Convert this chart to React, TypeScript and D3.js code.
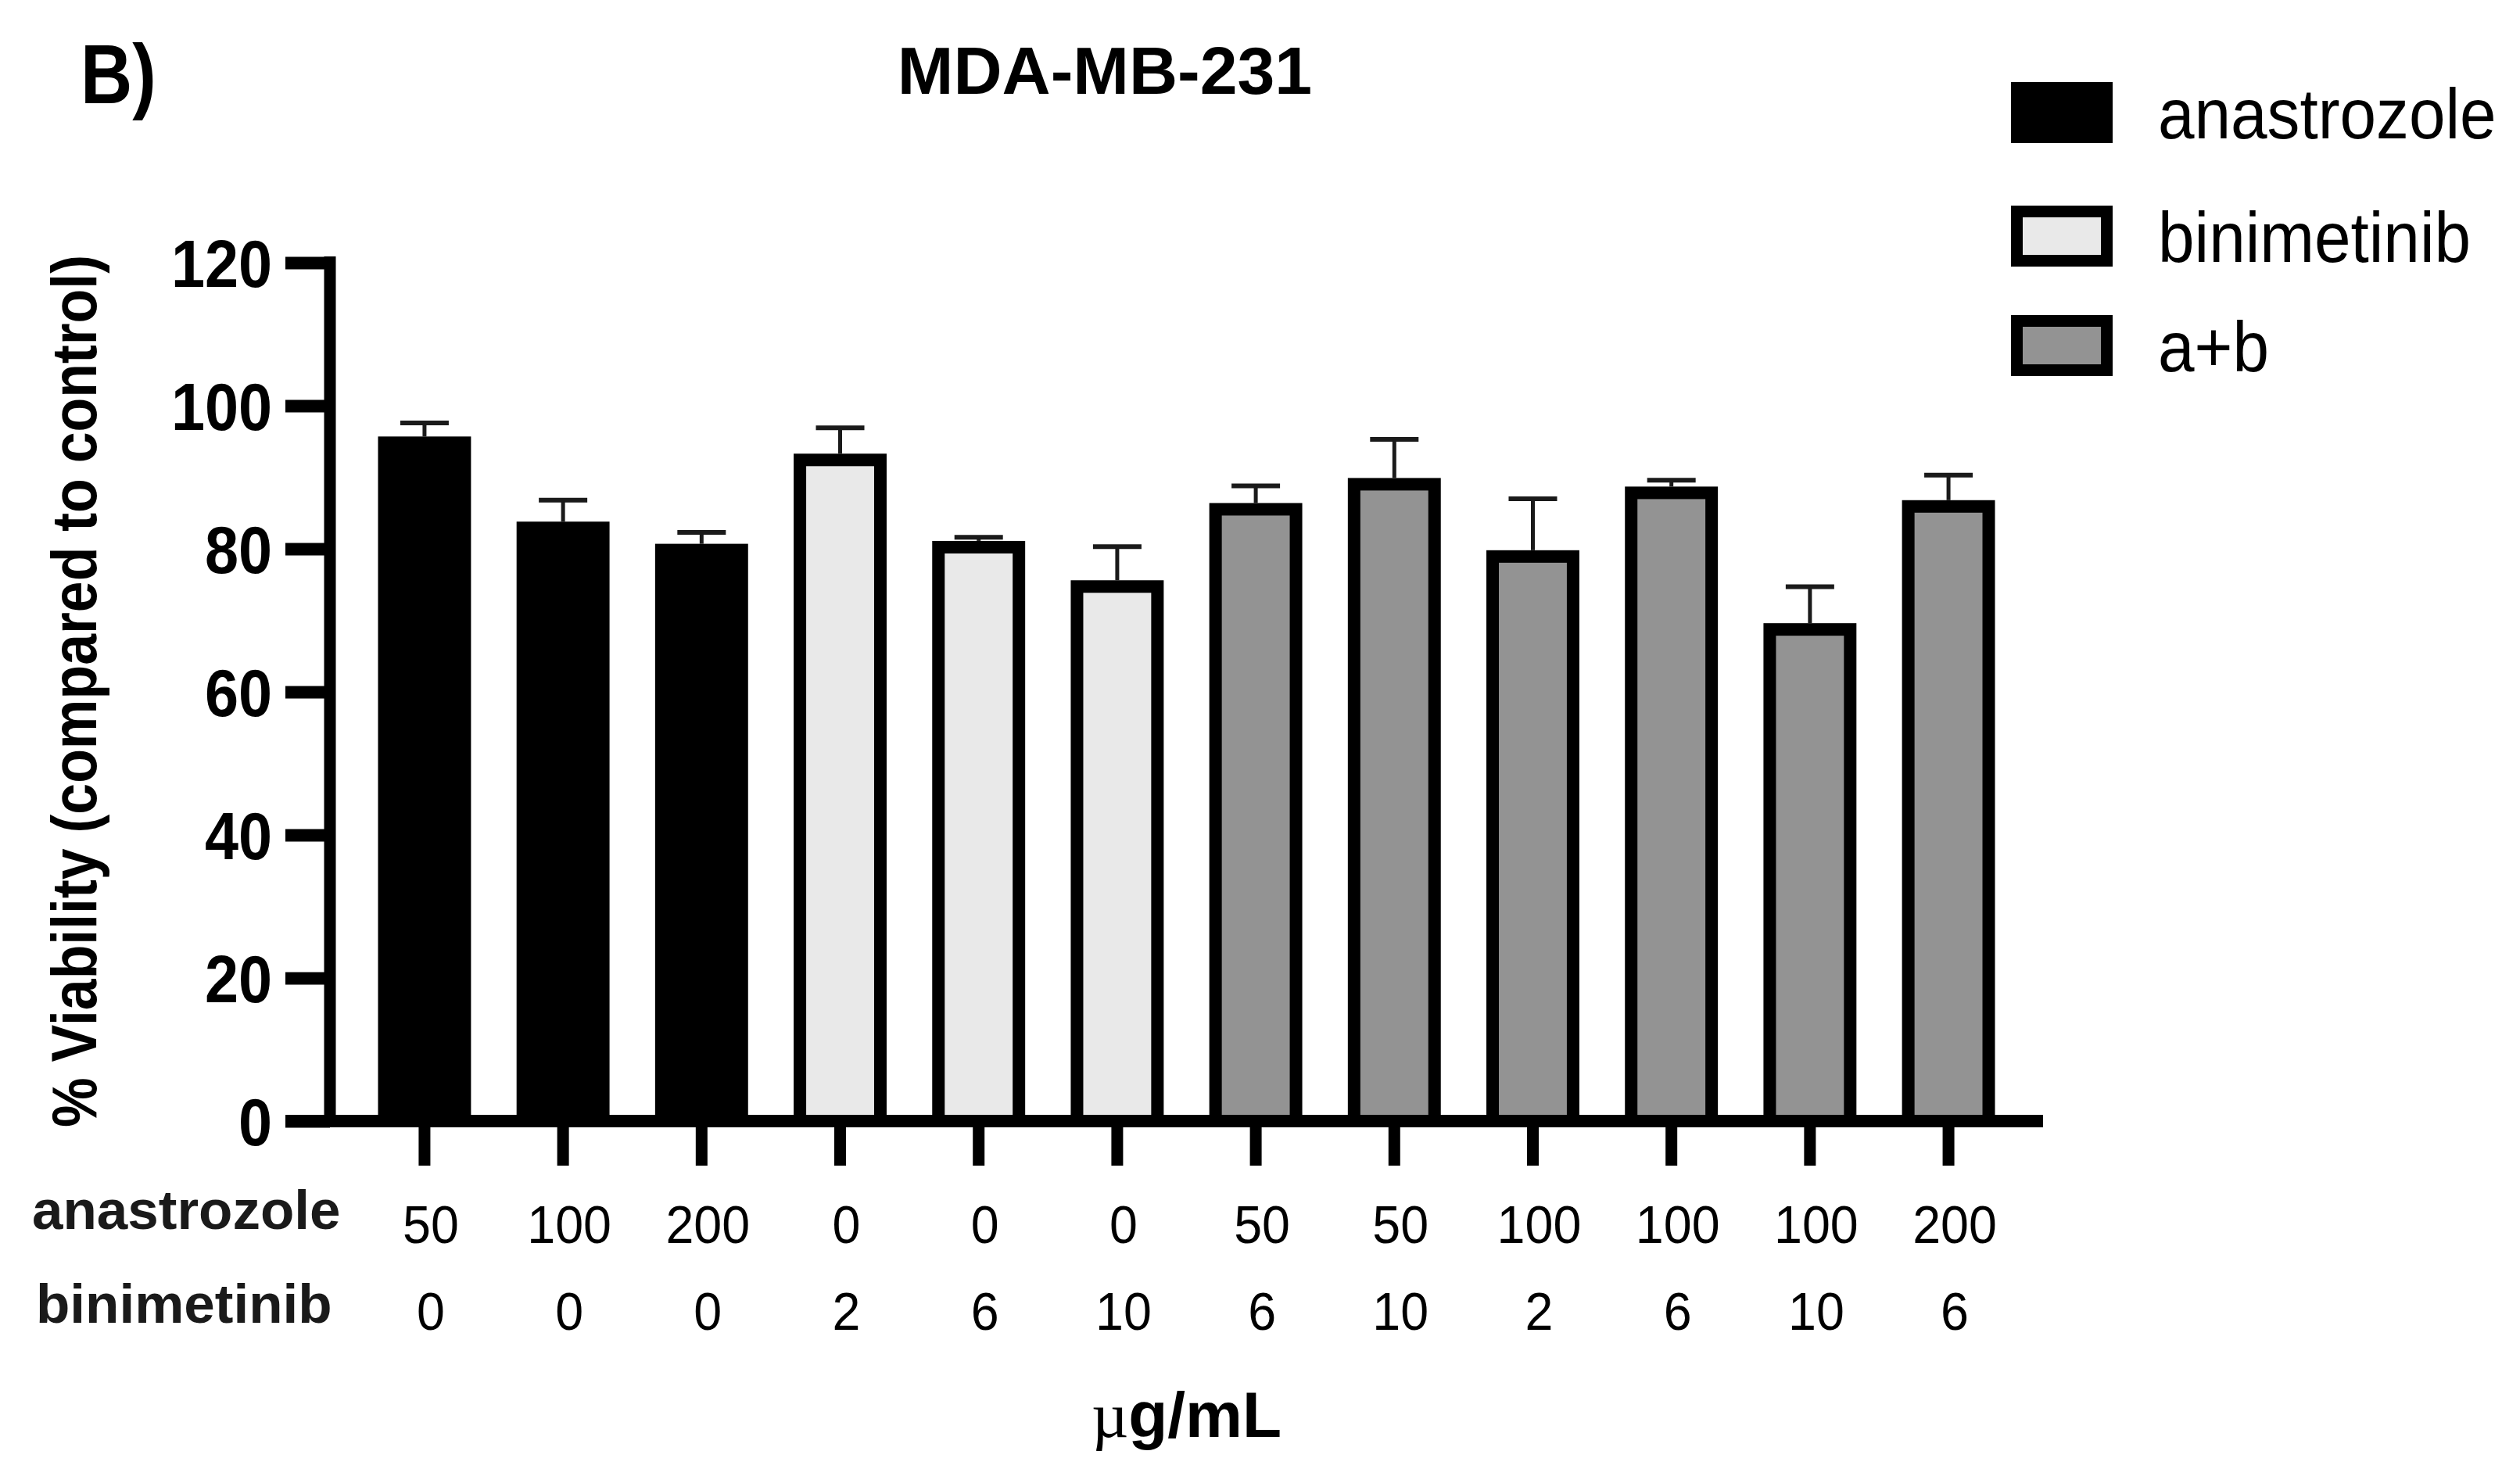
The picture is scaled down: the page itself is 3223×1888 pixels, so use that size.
import { useEffect, useRef } from 'react';
import * as d3 from 'd3';

// data
const seriesNames = ['anastrozole', 'binimetinib', 'a+b'];
const barGroup = [
  'anastrozole', 'anastrozole', 'anastrozole',
  'binimetinib', 'binimetinib', 'binimetinib',
  'a+b', 'a+b', 'a+b', 'a+b', 'a+b', 'a+b',
];
const anastrozoleDose = ['50', '100', '200', '0', '0', '0', '50', '50', '100', '100', '100', '200'];
const binimetinibDose = ['0', '0', '0', '2', '6', '10', '6', '10', '2', '6', '10', '6'];
const viability = [95.7, 83.8, 80.7, 93.3, 81.1, 75.6, 86.4, 89.9, 79.8, 88.7, 69.6, 86.8];
const viabilityErr = [1.9, 3.0, 1.6, 3.6, 0.5, 4.7, 2.4, 5.4, 7.2, 0.9, 5.1, 3.5];
const yTicks = [0, 20, 40, 60, 80, 100, 120];

const W = 3223;
const H = 1888;
const FONT = "'Liberation Sans', Arial, Helvetica, sans-serif";

export default function App() {
  const svgRef = useRef<SVGSVGElement>(null);

  useEffect(() => {
    if (!svgRef.current) return;
    const svg = d3.select(svgRef.current);
    svg.selectAll('*').remove();

    svg.append('rect').attr('width', W).attr('height', H).attr('fill', '#fff');

    const x = d3.scaleBand<number>()
      .domain(d3.range(viability.length))
      .range([422, 2613])
      .paddingInner(0.329)
      .paddingOuter(0.347);
    const y = d3.scaleLinear().domain([0, 120]).range([1434, 336]);
    const fill = d3.scaleOrdinal<string, string>()
      .domain(seriesNames)
      .range(['#000000', '#e9e9e9', '#939393']);
    const bw = x.bandwidth();
    const cx = (i: number) => (x(i) as number) + bw / 2;

    // bars (border drawn inside the bar)
    svg.append('g').selectAll('rect')
      .data(viability)
      .join('rect')
      .attr('x', (d, i) => (x(i) as number) + 8)
      .attr('y', d => y(d) + 8)
      .attr('width', bw - 16)
      .attr('height', d => y(0) - y(d) - 8)
      .attr('fill', (d, i) => fill(barGroup[i]))
      .attr('stroke', '#000')
      .attr('stroke-width', 16);

    // error bars (upper only)
    const err = svg.append('g').attr('stroke', '#1a1a1a');
    err.selectAll('line.stem')
      .data(viability)
      .join('line')
      .attr('class', 'stem')
      .attr('x1', (d, i) => cx(i)).attr('x2', (d, i) => cx(i))
      .attr('y1', d => y(d)).attr('y2', (d, i) => y(d + viabilityErr[i]))
      .attr('stroke-width', 5);
    err.selectAll('line.cap')
      .data(viability)
      .join('line')
      .attr('class', 'cap')
      .attr('x1', (d, i) => cx(i) - 31).attr('x2', (d, i) => cx(i) + 31)
      .attr('y1', (d, i) => y(d + viabilityErr[i])).attr('y2', (d, i) => y(d + viabilityErr[i]))
      .attr('stroke-width', 6);

    // y axis
    const gy = svg.append('g')
      .attr('transform', 'translate(422,0)')
      .call(d3.axisLeft(y).tickValues(yTicks).tickSize(57).tickSizeOuter(0))
      .attr('font-family', FONT)
      .attr('font-size', 86)
      .attr('font-weight', 'bold');
    gy.select('.domain')
      .attr('d', `M0,${y(0) + 8}V${y(120) - 8}`)
      .attr('stroke', '#000')
      .attr('stroke-width', 15);
    gy.selectAll('.tick line').attr('stroke', '#000').attr('stroke-width', 16);
    gy.selectAll('.tick text')
      .attr('x', null)
      .attr('fill', '#000')
      .attr('dy', '0.36em')
      .attr('transform', 'translate(-74,0) scale(0.9,1)');

    // x axis
    const gx = svg.append('g')
      .attr('transform', `translate(0,${y(0)})`)
      .call(d3.axisBottom(x).tickSize(57).tickSizeOuter(0).tickFormat(() => ''));
    gx.select('.domain')
      .attr('d', 'M365,0H2613')
      .attr('stroke', '#000')
      .attr('stroke-width', 16);
    gx.selectAll('.tick line').attr('stroke', '#000').attr('stroke-width', 15);

    // dose rows under the axis
    const rows = svg.append('g')
      .attr('font-family', FONT)
      .attr('font-size', 68)
      .attr('text-anchor', 'middle')
      .attr('fill', '#000');
    rows.selectAll('text.ana')
      .data(anastrozoleDose)
      .join('text')
      .attr('class', 'ana')
      .attr('transform', (d, i) => `translate(${cx(i) + 8},1590) scale(0.95,1)`)
      .text(d => d);
    rows.selectAll('text.bini')
      .data(binimetinibDose)
      .join('text')
      .attr('class', 'bini')
      .attr('transform', (d, i) => `translate(${cx(i) + 8},1701) scale(0.95,1)`)
      .text(d => d);

    const rowLabels = svg.append('g')
      .attr('font-family', FONT)
      .attr('font-size', 71)
      .attr('font-weight', 'bold')
      .attr('fill', '#1a1a1a');
    rowLabels.append('text').attr('x', 41).attr('y', 1572).text('anastrozole');
    rowLabels.append('text').attr('x', 46).attr('y', 1692).text('binimetinib');

    // x title
    const xt = svg.append('text')
      .attr('x', 1396)
      .attr('y', 1838)
      .attr('font-family', FONT)
      .attr('font-size', 82)
      .attr('font-weight', 'bold')
      .attr('fill', '#000');
    xt.append('tspan').attr('font-weight', 'normal').attr('font-family', "'Liberation Serif', serif").text('µ');
    xt.append('tspan').text('g/mL');

    // y title
    svg.append('text')
      .attr('transform', 'translate(123,884) rotate(-90)')
      .attr('text-anchor', 'middle')
      .attr('font-family', FONT)
      .attr('font-size', 81)
      .attr('font-weight', 'bold')
      .attr('textLength', 1116)
      .attr('lengthAdjust', 'spacingAndGlyphs')
      .attr('fill', '#000')
      .text('% Viability (compared to control)');

    // chart title and panel letter
    svg.append('text')
      .attr('x', 1413)
      .attr('y', 120)
      .attr('text-anchor', 'middle')
      .attr('font-family', FONT)
      .attr('font-size', 86)
      .attr('font-weight', 'bold')
      .attr('fill', '#000')
      .text('MDA-MB-231');
    svg.append('text')
      .attr('transform', 'translate(103,132) scale(0.85,1)')
      .attr('font-family', FONT)
      .attr('font-size', 108)
      .attr('font-weight', 'bold')
      .attr('fill', '#000')
      .text('B)');

    // legend
    const legendTop = [105, 263, 403];
    const lg = svg.append('g').selectAll('g')
      .data(seriesNames)
      .join('g')
      .attr('transform', (d, i) => `translate(2572,${legendTop[i]})`);
    lg.append('rect')
      .attr('x', 7.5).attr('y', 7.5)
      .attr('width', 115).attr('height', 63)
      .attr('fill', d => fill(d))
      .attr('stroke', '#000')
      .attr('stroke-width', 15);
    lg.append('text')
      .attr('transform', 'translate(188,72) scale(0.93,1)')
      .attr('font-family', FONT)
      .attr('font-size', 90)
      .attr('fill', '#000')
      .text(d => d);
  }, []);

  return (
    <svg
      ref={svgRef}
      width={W}
      height={H}
      viewBox={`0 0 ${W} ${H}`}
      style={{ position: 'absolute', left: 0, top: 0, display: 'block' }}
    />
  );
}
